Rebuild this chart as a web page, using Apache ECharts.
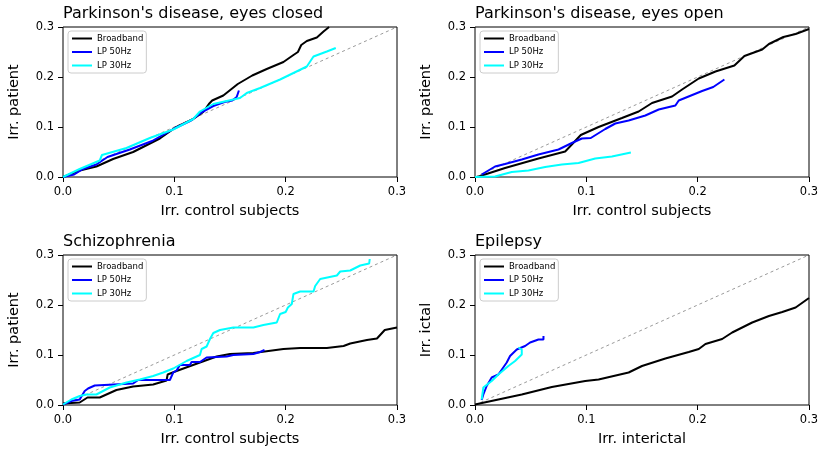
<!DOCTYPE html>
<html>
<head>
<meta charset="utf-8">
<script src="https://cdn.jsdelivr.net/npm/echarts@6/dist/echarts.min.js"></script>
<style>
  html, body { margin: 0; padding: 0; background: #fff; }
  #chart { width: 824px; height: 453px; }
</style>
</head>
<body>
<div id="chart"></div>
<script>
// panel titles and axis names
var titles = ["Parkinson's disease, eyes closed", "Parkinson's disease, eyes open", 'Schizophrenia', 'Epilepsy']
var xNames = ['Irr. control subjects', 'Irr. control subjects', 'Irr. control subjects', 'Irr. interictal']
var yNames = ['Irr. patient', 'Irr. patient', 'Irr. patient', 'Irr. ictal']
var seriesNames = ['Broadband', 'LP 50Hz', 'LP 30Hz']
var tickValues = [0, 0.1, 0.2, 0.3]
var diagonal = [[0, 0], [0.3, 0.3]]

// Parkinson's disease, eyes closed
var pdClosedBroadband = [[0, 0], [0.015, 0.013], [0.030, 0.021], [0.045, 0.036], [0.063, 0.050], [0.087, 0.077],
  [0.101, 0.099], [0.117, 0.116], [0.126, 0.130], [0.131, 0.146], [0.134, 0.153], [0.144, 0.163],
  [0.157, 0.186], [0.170, 0.203], [0.183, 0.216], [0.198, 0.230], [0.207, 0.244], [0.211, 0.250],
  [0.214, 0.264], [0.219, 0.272], [0.228, 0.279], [0.234, 0.291], [0.239, 0.300]]
var pdClosedLp50 = [[0, 0], [0.010, 0.005], [0.018, 0.016], [0.030, 0.025], [0.040, 0.040], [0.060, 0.055],
  [0.080, 0.072], [0.100, 0.097], [0.115, 0.113], [0.125, 0.130], [0.135, 0.142], [0.145, 0.150],
  [0.152, 0.153], [0.156, 0.160], [0.158, 0.173]]
var pdClosedLp30 = [[0, 0], [0.015, 0.016], [0.033, 0.033], [0.035, 0.044], [0.057, 0.058], [0.078, 0.078],
  [0.099, 0.095], [0.117, 0.116], [0.123, 0.131], [0.135, 0.146], [0.159, 0.158], [0.165, 0.168],
  [0.177, 0.178], [0.195, 0.195], [0.207, 0.208], [0.219, 0.221], [0.222, 0.231], [0.225, 0.241],
  [0.237, 0.251], [0.245, 0.258]]

// Parkinson's disease, eyes open
var pdOpenBroadband = [[0.002, 0], [0.027, 0.018], [0.057, 0.037], [0.081, 0.051], [0.087, 0.065], [0.095, 0.084],
  [0.111, 0.100], [0.132, 0.118], [0.147, 0.131], [0.159, 0.148], [0.177, 0.161], [0.186, 0.175],
  [0.201, 0.197], [0.216, 0.211], [0.233, 0.223], [0.242, 0.242], [0.258, 0.255], [0.264, 0.266],
  [0.277, 0.280], [0.288, 0.286], [0.300, 0.296]]
var pdOpenLp50 = [[0.006, 0.005], [0.018, 0.021], [0.027, 0.026], [0.042, 0.035], [0.057, 0.045], [0.075, 0.055],
  [0.087, 0.068], [0.096, 0.077], [0.104, 0.078], [0.117, 0.096], [0.126, 0.107], [0.138, 0.113],
  [0.153, 0.123], [0.165, 0.135], [0.180, 0.143], [0.183, 0.153], [0.204, 0.172], [0.214, 0.180],
  [0.224, 0.195]]
var pdOpenLp30 = [[0, 0], [0.018, 0.001], [0.033, 0.010], [0.048, 0.013], [0.063, 0.020], [0.078, 0.025],
  [0.093, 0.028], [0.108, 0.037], [0.123, 0.041], [0.140, 0.049]]

// Schizophrenia
var scBroadband = [[0, 0.003], [0.015, 0.005], [0.022, 0.015], [0.033, 0.015], [0.048, 0.030], [0.063, 0.037],
  [0.081, 0.041], [0.093, 0.049], [0.094, 0.061], [0.102, 0.068], [0.123, 0.085], [0.138, 0.097],
  [0.150, 0.102], [0.171, 0.104], [0.198, 0.112], [0.213, 0.114], [0.237, 0.114], [0.252, 0.118],
  [0.258, 0.123], [0.273, 0.130], [0.282, 0.133], [0.289, 0.150], [0.300, 0.155]]
var scLp50 = [[0, 0.001], [0.0075, 0.008], [0.015, 0.011], [0.0195, 0.028], [0.0225, 0.033], [0.0285, 0.039],
  [0.030, 0.043], [0.063, 0.043], [0.0675, 0.050], [0.096, 0.050], [0.099, 0.065], [0.102, 0.069],
  [0.105, 0.080], [0.114, 0.080], [0.1155, 0.086], [0.123, 0.086], [0.129, 0.095], [0.147, 0.097],
  [0.153, 0.100], [0.171, 0.102], [0.177, 0.106], [0.181, 0.110]]
var scLp30 = [[0, 0.001], [0.0075, 0.011], [0.015, 0.018], [0.021, 0.021], [0.030, 0.021], [0.042, 0.035],
  [0.057, 0.045], [0.069, 0.051], [0.081, 0.058], [0.090, 0.065], [0.099, 0.073], [0.111, 0.088],
  [0.123, 0.100], [0.1245, 0.112], [0.129, 0.117], [0.132, 0.132], [0.135, 0.144], [0.141, 0.150],
  [0.153, 0.155], [0.171, 0.155], [0.180, 0.160], [0.192, 0.165], [0.195, 0.182], [0.200, 0.186],
  [0.202, 0.195], [0.2055, 0.202], [0.207, 0.222], [0.213, 0.227], [0.225, 0.227], [0.2265, 0.238],
  [0.231, 0.252], [0.246, 0.259], [0.249, 0.267], [0.258, 0.269], [0.267, 0.279], [0.275, 0.283],
  [0.2755, 0.292]]

// Epilepsy
var epBroadband = [[0, 0.001], [0.021, 0.011], [0.042, 0.021], [0.069, 0.036], [0.099, 0.048], [0.111, 0.051],
  [0.138, 0.065], [0.150, 0.078], [0.171, 0.093], [0.192, 0.106], [0.201, 0.112], [0.207, 0.122],
  [0.222, 0.132], [0.231, 0.145], [0.249, 0.165], [0.264, 0.178], [0.276, 0.186], [0.288, 0.195],
  [0.300, 0.214]]
var epLp50 = [[0.006, 0.010], [0.0075, 0.021], [0.0105, 0.038], [0.015, 0.055], [0.021, 0.061], [0.0285, 0.085],
  [0.0315, 0.098], [0.0375, 0.111], [0.045, 0.118], [0.0495, 0.125], [0.057, 0.131], [0.0615, 0.131],
  [0.0615, 0.138]]
var epLp30 = [[0.006, 0.011], [0.0075, 0.035], [0.015, 0.048], [0.021, 0.061], [0.030, 0.078], [0.036, 0.088],
  [0.042, 0.101], [0.042, 0.111], [0.039, 0.115]]

var panelData = [
  [pdClosedBroadband, pdClosedLp50, pdClosedLp30],
  [pdOpenBroadband, pdOpenLp50, pdOpenLp30],
  [scBroadband, scLp50, scLp30],
  [epBroadband, epLp50, epLp30]
]
var colors = ['#000000', '#0000ff', '#00ffff']

var font = 'DejaVu Sans'
var panelLeft = [63, 475, 63, 475]
var panelTop = [27, 27, 255, 255]

var chart = echarts.init(document.getElementById('chart'), null, { renderer: 'canvas' })

var grid = []
var xAxis = []
var yAxis = []
var title = []
var legend = []
var series = []

for (var i = 0; i < 4; i++) {
  grid.push({
    left: panelLeft[i],
    top: panelTop[i],
    width: 334,
    height: 150,
    show: true,
    borderColor: '#000',
    borderWidth: 1,
    backgroundColor: 'transparent'
  })
  title.push({
    text: titles[i],
    left: panelLeft[i],
    top: panelTop[i] - 21,
    padding: 0,
    textStyle: { fontFamily: font, fontSize: 16, fontWeight: 'normal', color: '#000' }
  })
  var axisCommon = {
    type: 'value',
    gridIndex: i,
    min: tickValues[0],
    max: tickValues[tickValues.length - 1],
    interval: 0.1,
    splitLine: { show: false },
    axisLine: { show: false },
    axisTick: { show: true, inside: false, length: 5, lineStyle: { color: '#000', width: 1 } },
    axisLabel: {
      fontFamily: font, fontSize: 11.5, color: '#000', margin: 9,
      formatter: function (v) { return v.toFixed(1) }
    },
    nameLocation: 'middle',
    nameTextStyle: { fontFamily: font, fontSize: 14.5, color: '#000' }
  }
  xAxis.push(Object.assign({}, axisCommon, { name: xNames[i], nameGap: 27 }))
  yAxis.push(Object.assign({}, axisCommon, { name: yNames[i], nameGap: 41 }))
  legend.push({
    left: panelLeft[i] + 5,
    top: panelTop[i] + 4,
    orient: 'vertical',
    data: seriesNames,
    selectedMode: false,
    itemWidth: 20,
    itemHeight: 8,
    itemGap: 4.5,
    padding: [3, 3, 3, 3],
    borderColor: '#cccccc',
    borderWidth: 1,
    borderRadius: 3,
    backgroundColor: 'rgba(255,255,255,0.8)',
    itemStyle: { opacity: 0 },
    textStyle: { fontFamily: font, fontSize: 8.5, color: '#000' }
  })
  series.push({
    type: 'line',
    xAxisIndex: i,
    yAxisIndex: i,
    data: diagonal,
    symbol: 'none',
    silent: true,
    lineStyle: { color: '#808080', width: 0.8, type: [3, 3] },
    z: 1
  })
  for (var s = 0; s < 3; s++) {
    series.push({
      name: seriesNames[s],
      type: 'line',
      xAxisIndex: i,
      yAxisIndex: i,
      data: panelData[i][s],
      symbol: 'none',
      showSymbol: false,
      color: colors[s],
      lineStyle: { color: colors[s], width: 2 },
      z: 2 + s
    })
  }
}

chart.setOption({
  animation: false,
  textStyle: { fontFamily: font },
  title: title,
  grid: grid,
  xAxis: xAxis,
  yAxis: yAxis,
  legend: legend,
  series: series
})
</script>
</body>
</html>
